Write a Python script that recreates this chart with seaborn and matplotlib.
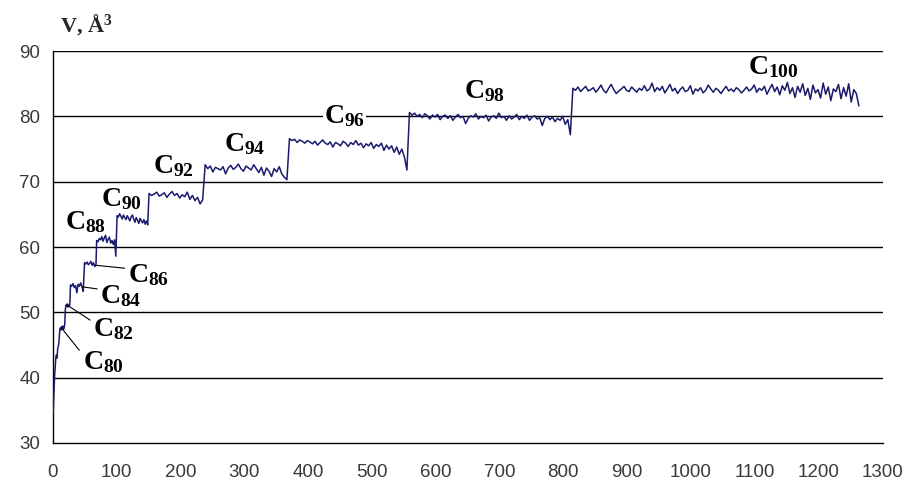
import numpy as np
import pandas as pd
import matplotlib
matplotlib.use('Agg')
import matplotlib.pyplot as plt
import seaborn as sns

# Data: volume V (A^3) along the run, one list per cluster plateau
# ==============================================================================
x_start = list(range(1, 28))
v_start = [34.7, 37.5, 40.0, 41.5, 43.0, 43.5, 43.0, 44.5, 44.8, 45.5, 47.0, 47.6,
           47.3, 47.8, 47.5, 47.9, 47.4, 47.6, 48.2, 50.5, 51.1, 51.0, 51.3, 50.8,
           51.1, 50.9, 51.2]

v_c84 = [54.2, 54.0, 54.4, 53.8, 54.1, 53.0, 54.3, 54.0, 54.5, 53.9, 53.2]
v_c86 = [57.6, 57.4, 57.7, 57.3, 57.5, 57.8, 57.2, 57.6, 57.0, 57.4]
v_c88 = [61.0, 60.8, 61.3, 61.1, 61.6, 60.9, 61.4, 61.8, 60.7, 61.2, 61.5, 60.6,
         61.0, 60.4, 61.1, 58.6]
v_c90 = [64.8, 64.6, 65.1, 64.7, 64.3, 64.9, 64.5, 64.2, 64.8, 64.4, 64.0, 64.6,
         64.9, 64.3, 63.8, 64.5, 64.1, 63.6, 64.4, 64.0, 63.7, 64.2, 63.5, 64.0, 63.4]
v_c92 = [68.2, 67.9, 68.1, 68.4, 67.8, 68.0, 68.3, 67.6, 68.1, 68.5, 67.9, 68.2,
         67.5, 68.0, 67.7, 68.4, 67.3, 67.9, 67.1, 67.6, 66.6, 67.2]
v_c94 = [72.6, 72.0, 72.4, 71.5, 72.2, 72.0, 71.8, 72.3, 71.2, 72.1, 72.5, 71.9,
         72.2, 72.7, 72.0, 71.6, 72.4, 72.1, 71.8, 72.6, 72.0, 71.4, 72.2, 71.0,
         72.1, 71.6, 70.8, 72.0, 71.5, 72.3, 71.2, 70.7, 70.3]
v_c96 = [76.6, 76.3, 76.5, 76.0, 76.4, 76.2, 75.9, 76.3, 76.1, 75.8, 76.2, 75.6,
         76.0, 76.4, 75.9, 75.7, 76.1, 75.3, 76.0, 75.8, 75.5, 76.2, 75.9, 75.4,
         76.0, 75.7, 76.3, 75.6, 75.9, 75.2, 75.8, 75.5, 76.0, 75.1, 75.7, 75.4,
         75.9, 74.8, 75.6, 75.0, 75.5, 74.5, 75.3, 74.2, 75.0, 73.8, 71.8]
v_c98 = [80.6, 80.2, 80.5, 80.0, 80.3, 79.8, 80.4, 80.1, 79.6, 80.2, 79.9, 80.3,
         79.5, 80.0, 80.2, 79.7, 80.1, 79.4, 79.9, 80.3, 79.8, 80.0, 78.9, 79.7,
         80.1, 79.9, 80.4, 79.6, 80.0, 79.8, 80.2, 79.3, 79.9, 80.1, 79.7, 80.5,
         79.8, 80.0, 79.4, 80.1, 79.6, 79.9, 80.3, 79.5, 80.0, 79.7, 80.2, 79.4,
         79.9, 80.1, 79.6, 79.8, 78.6, 79.7, 80.0, 79.5, 79.9, 79.2, 79.7, 79.4,
         80.0, 78.8, 79.5, 77.2]
v_c100 = [84.3, 84.0, 84.5, 83.8, 84.2, 84.6, 83.9, 84.1, 84.4, 83.7,
          84.2, 84.8, 84.0, 83.6, 84.3, 84.9, 84.1, 83.5, 83.9, 84.2,
          84.6, 84.0, 83.8, 84.5, 84.1, 83.7, 84.3, 84.0, 84.7, 83.9,
          84.2, 85.1, 83.8, 84.4, 84.0, 84.6, 83.6, 84.2, 84.9, 83.9,
          84.3, 83.5, 84.1, 84.5, 83.8, 84.0, 84.7, 83.4, 84.2, 83.9,
          84.4, 83.6, 84.0, 84.8, 84.2, 83.7, 84.3, 84.0, 83.5, 84.1,
          84.6, 83.9, 84.2, 83.8, 84.4, 84.1, 83.6, 84.0, 84.5, 83.9,
          84.2, 84.8, 83.7, 84.3, 84.0, 84.6, 83.4, 84.2, 84.9, 83.8,
          84.5, 83.3, 84.7, 84.0, 85.2, 83.5, 84.4, 82.9, 84.6, 83.7,
          85.0, 83.2, 84.3, 82.6, 84.8, 83.6, 84.1, 82.8, 85.1, 83.4,
          84.5, 82.4, 84.2, 83.8, 84.9, 82.7, 84.4, 83.1, 85.0, 82.2,
          84.1, 83.5, 81.6]

# (first step, sampling step, values) for each plateau
segments = [(28, 2, v_c84), (50, 2, v_c86), (69, 2, v_c88), (101, 2, v_c90),
            (151, 4, v_c92), (239, 4, v_c94), (371, 4, v_c96), (559, 4, v_c98),
            (815, 4, v_c100)]

# cluster labels: subscript, text position, leader line start (or None)
labels = [('80', (47, 42.4), (14, 47.6)),
          ('82', (64, 47.4), (23, 51.1)),
          ('84', (75, 52.5), (47, 53.9)),
          ('86', (118, 55.7), (68, 57.2)),
          ('88', (20, 63.8), None),
          ('90', (76, 67.3), None),
          ('92', (157, 72.4), None),
          ('94', (269, 75.8), None),
          ('96', (425, 80.0), None),
          ('98', (645, 83.9), None),
          ('100', (1090, 87.5), None)]

steps = list(x_start)
volume = list(v_start)
for start, step, vals in segments:
    steps += list(range(start, start + step * len(vals), step))
    volume += vals
datos = pd.DataFrame({'step': steps, 'V': volume})

# Plot
# ==============================================================================
sns.set_style('white')
plt.rcParams['font.family'] = ['Liberation Sans', 'DejaVu Sans']
plt.rcParams['mathtext.fontset'] = 'custom'
plt.rcParams['mathtext.rm'] = 'Liberation Serif:bold'
plt.rcParams['mathtext.it'] = 'Liberation Serif:bold'
plt.rcParams['mathtext.bf'] = 'Liberation Serif:bold'

fig = plt.figure(figsize=(9.07, 4.82), dpi=100)
ax = fig.add_axes([0.058, 0.081, 0.915, 0.813])

sns.lineplot(data=datos, x='step', y='V', color='#1b1b6e', linewidth=1.1,
             ax=ax, zorder=3)

ax.set_xlim(0, 1300)
ax.set_ylim(30, 90)
ax.set_xticks(range(0, 1301, 100))
ax.set_yticks(range(30, 91, 10))
for yv in range(40, 91, 10):
    ax.axhline(yv, color='black', linewidth=1.0, zorder=0)
ax.set_xlabel('')
ax.set_ylabel('')
for s in ['top', 'right']:
    ax.spines[s].set_visible(False)
for s in ['left', 'bottom']:
    ax.spines[s].set_color('black')
    ax.spines[s].set_linewidth(1.0)
ax.tick_params(axis='y', direction='out', length=6, width=1, color='black',
               labelsize=13.5, labelcolor='#3a3a3a', pad=3)
ax.tick_params(axis='x', direction='out', length=7, width=1, color='black',
               labelsize=13.5, labelcolor='#3a3a3a', pad=8)

for sub, (tx, ty), lead in labels:
    txt = r'$\mathrm{C}_{' + sub + '}$'
    kw = dict(fontsize=20, ha='left', va='center', color='black')
    if sub == '96':
        kw['bbox'] = dict(facecolor='white', edgecolor='none', pad=1)
    if lead is not None:
        ax.annotate(txt, xy=lead, xytext=(tx, ty),
                    arrowprops=dict(arrowstyle='-', color='black', lw=0.8,
                                    shrinkA=0, shrinkB=0, relpos=(0.02, 0.75)),
                    **kw)
    else:
        ax.text(tx, ty, txt, **kw)

fig.text(0.066, 0.948, r'V, Å$^{3}$', fontsize=16, fontweight='bold',
         family=['Liberation Serif', 'DejaVu Serif'], va='center', ha='left')

fig.savefig('out.png', dpi=100)
